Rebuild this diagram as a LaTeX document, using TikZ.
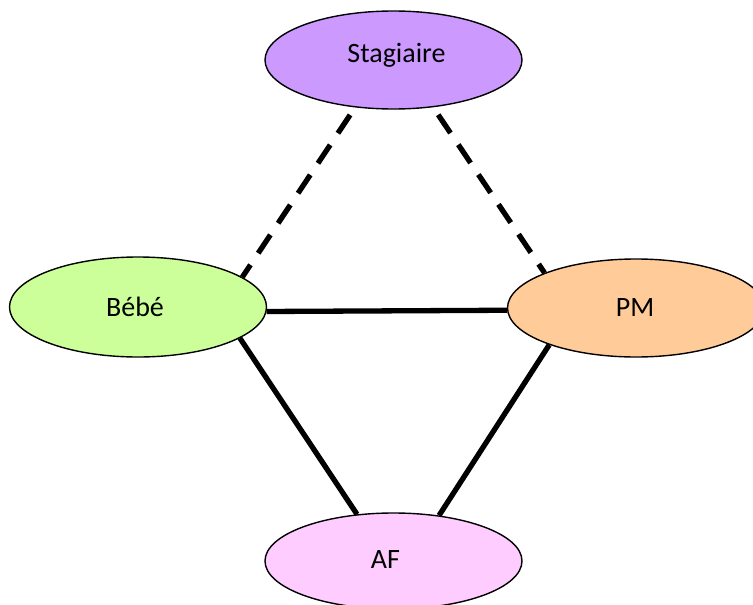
\documentclass[tikz,border=0pt]{standalone}
\usepackage{fontspec}
\setmainfont{Carlito}
\usetikzlibrary{shapes.geometric}
\definecolor{cstag}{HTML}{CC99FF}
\definecolor{cbebe}{HTML}{CCFF99}
\definecolor{cpm}{HTML}{FFCC99}
\definecolor{caf}{HTML}{FFCCFF}
\tikzset{
  oval/.style={ellipse, draw=black, line width=1.4pt, minimum width=257pt, minimum height=98pt, inner sep=0pt},
  lbl/.style={font=\fontsize{28}{33}\selectfont, text=black},
  link/.style={line width=5.3pt, black},
  dlink/.style={link, dash pattern=on 22pt off 14pt, shorten <=9pt}
}
\begin{document}
\begin{tikzpicture}[x=1pt,y=-1pt]
\useasboundingbox (0,0) rectangle (753,605);
\node[oval, fill=cstag, label={[lbl, xshift=3pt, yshift=5pt]center:Stagiaire}] (stag) at (393.5,60) {};
\node[oval, fill=cbebe, minimum height=100pt, label={[lbl, xshift=-3pt]center:Bébé}] (bebe) at (138,307) {};
\node[oval, fill=cpm, label={[lbl, xshift=-1pt]center:PM}] (pm) at (636,308) {};
\node[oval, fill=caf, minimum height=96pt, label={[lbl, xshift=-8pt, yshift=1pt]center:AF}] (af) at (393.5,561) {};
\draw[dlink] (stag.231) -- (bebe.16);
\draw[dlink] (stag.310) -- (pm.159);
\draw[link] (bebe.-2) -- (pm.181);
\draw[link] (bebe.-17) -- (af.128);
\draw[link] (pm.203) -- (af.45);
\end{tikzpicture}
\end{document}
